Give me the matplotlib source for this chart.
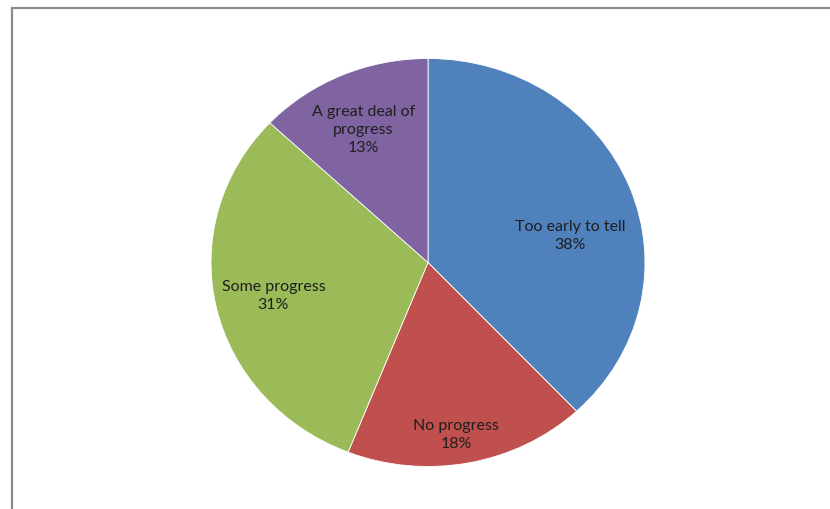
import matplotlib.pyplot as plt
from matplotlib.patches import Rectangle
import numpy as np

plt.rcParams['font.family'] = ['Lato', 'DejaVu Sans']

# data
categories = ["Too early to tell", "No progress", "Some progress", "A great deal of\nprogress"]
shares = [38, 18, 31, 13]
colors = ["#4F81BD", "#C0504D", "#9BBB59", "#8064A2"]
title = "Perceived impact of the support on policy and practice change"

W, H = 830, 510
fig = plt.figure(figsize=(W / 100, H / 100), dpi=100)
fig.patch.set_facecolor("white")

# chart area frame (runs off the right and bottom edge)
fig.patches.append(Rectangle((12 / W, -0.1), 1.2, 1.1 - 9 / H,
                             transform=fig.transFigure, fill=False,
                             edgecolor="#8c8c8c", lw=1.6, zorder=0))

# title, mostly cut off by the top edge (only descenders visible)
fig.text(-10 / W, 1 + 6.5 / H, title, ha="left", va="baseline",
         fontsize=20, fontweight="bold", color="black")

# pie (slightly stretched horizontally like the original)
cx, cy, rx, ry = 428, 246.5, 217, 204
ax = fig.add_axes([(cx - rx) / W, (cy - ry) / H, 2 * rx / W, 2 * ry / H])
wedges, _ = ax.pie(shares, colors=colors, startangle=90, counterclock=False,
                   wedgeprops=dict(edgecolor="white", linewidth=0.6))
ax.set_aspect("auto")
ax.set_xlim(-1, 1)
ax.set_ylim(-1, 1)
ax.axis("off")

# label placement: distance from centre and angle shift per slice
label_dist = [0.67, 0.85, 0.73, 0.72]
label_shift = [-10, -2, 0, 1]
for w, name, val, d, s in zip(wedges, categories, shares, label_dist, label_shift):
    ang = np.deg2rad((w.theta1 + w.theta2) / 2 + s)
    ax.text(d * np.cos(ang), d * np.sin(ang), f"{name}\n{val}%",
            ha="center", va="center", fontsize=11.5, color="#1e1e1e",
            linespacing=1.35)

fig.savefig("out.png", dpi=100)
